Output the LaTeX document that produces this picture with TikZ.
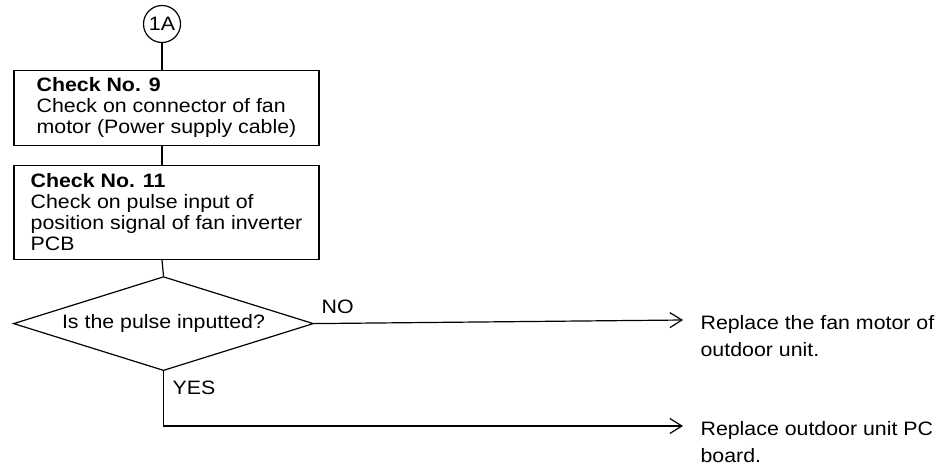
\documentclass[tikz,border=0pt]{standalone}
\usepackage{fontspec}
\setmainfont{Liberation Sans}[FakeStretch=1.1]
\usepackage{tikz}
\usetikzlibrary{positioning,arrows.meta,shapes.geometric}

\begin{document}
\begin{tikzpicture}[
  x=1pt, y=1pt,
  font=\fontsize{19.4pt}{21pt}\selectfont,
  line width=1.2pt,
  every node/.style={align=left},
  conn/.style   ={circle, draw=black, minimum size=37pt, inner sep=0pt},
  check/.style  ={rectangle, draw=black, minimum width=305pt, inner sep=0pt},
  test/.style   ={diamond, draw=black, aspect=3.2, inner sep=0pt,
                  minimum width=300pt, minimum height=94pt},
  result/.style ={inner sep=0pt, anchor=north west,
                  font=\fontsize{19.4pt}{27pt}\selectfont},
  tag/.style    ={inner sep=0pt, anchor=base west},
  edge/.style   ={draw=black},
  flow/.style   ={draw=black, -{Straight Barb[length=12pt,width=15pt]}},
]
\useasboundingbox (0,0) rectangle (942,-466);

% --- Connecteur d'entree ---
\node[conn] (c1A) at (162,-24) {1A};

% --- Verifications ---
\node[check, minimum height=75pt, below=26.5pt of c1A, xshift=4.5pt] (chk9)
  {\textbf{Check No. 9}\\Check on connector of fan\\motor (Power supply cable)};
\node[check, minimum height=94pt, below=19pt of chk9] (chk11)
  {\textbf{Check No. 11}\\Check on pulse input of\\position signal of fan inverter\\PCB};

% --- Decision ---
\node[test, below=16pt of chk11, xshift=-3pt] (dec) {Is the pulse inputted?};

% --- Resultats ---
\coordinate (noend)  at (683,-320);
\coordinate (yesend) at (683,-426);
\node[result] (rfan) at (700,-315) {Replace the fan motor of\\outdoor unit.};
\node[result] (rpcb) at (700,-421) {Replace outdoor unit PC\\board.};

\node[tag] (lno)  at (321,-313) {NO};
\node[tag] (lyes) at (172,-394) {YES};

% --- Liens ---
\draw[edge] (c1A.south) -- (c1A.south |- chk9.north);
\draw[edge] (c1A.south |- chk9.south) -- (c1A.south |- chk11.north);
\draw[edge] (c1A.south |- chk11.south) -- (dec.north);
\draw[flow] (dec.east) -- (noend);
\draw[flow] (dec.south) |- (yesend);

\end{tikzpicture}
\end{document}
